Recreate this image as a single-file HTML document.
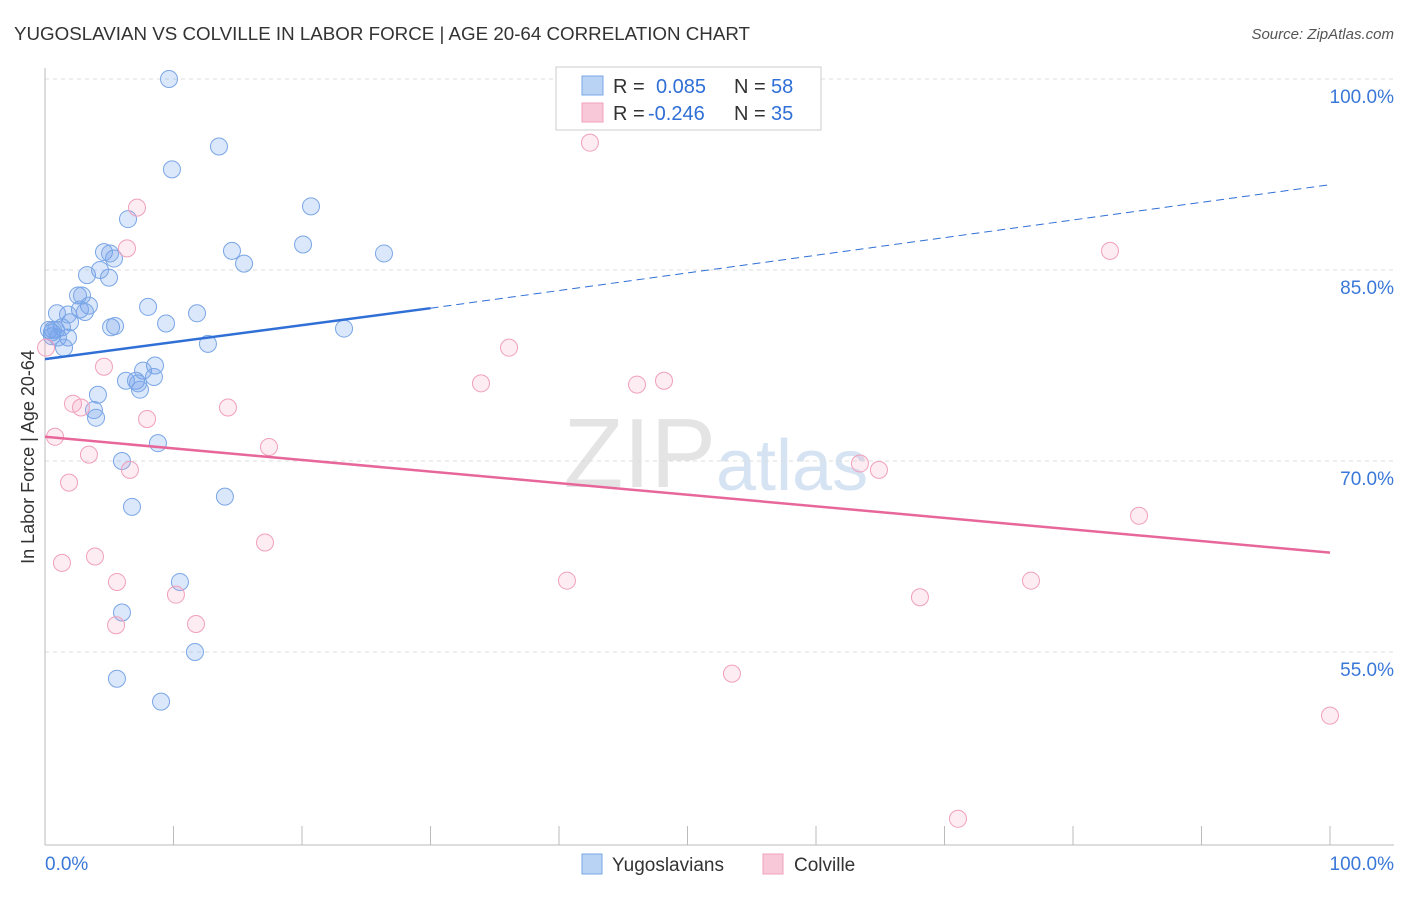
<!DOCTYPE html>
<html><head><meta charset="utf-8"><style>
body{margin:0;background:#fff;font-family:"Liberation Sans",sans-serif;}
svg text{font-family:"Liberation Sans",sans-serif;}
</style></head><body>
<svg id="chart" width="1406" height="892">
<text x="14" y="40" font-size="18" fill="#333" textLength="736" lengthAdjust="spacingAndGlyphs">YUGOSLAVIAN VS COLVILLE IN LABOR FORCE | AGE 20-64 CORRELATION CHART</text>
<text x="1394" y="39" font-size="15" fill="#555" text-anchor="end" font-style="italic">Source: ZipAtlas.com</text>
<text x="716" y="487" font-size="98" fill="#e4e4e4" text-anchor="end" font-family="Liberation Serif">ZIP</text>
<text x="716" y="490" font-size="72" fill="#d6e3f3">atlas</text>
<g id="grid"></g>
<g id="axes"></g>
<g id="pts"></g>
<g id="trend"></g>
<text transform="translate(34,457) rotate(-90)" font-size="18" fill="#333" text-anchor="middle">In Labor Force | Age 20-64</text>
<g>
<rect x="556" y="67" width="265" height="63" fill="#fff" stroke="#ccc"/>
<rect x="582" y="76" width="21" height="19" fill="#b9d3f5" stroke="#7aa6e6"/>
<rect x="582" y="103" width="21" height="19" fill="#f8c8d8" stroke="#f0a0bc"/>
<text x="613" y="93" font-size="20" fill="#333">R = <tspan x="656" fill="#2f6fd6">0.085</tspan><tspan x="734">N = </tspan><tspan x="771" fill="#2f6fd6">58</tspan></text>
<text x="613" y="120" font-size="20" fill="#333">R = <tspan x="648" fill="#2f6fd6">-0.246</tspan><tspan x="734">N = </tspan><tspan x="771" fill="#2f6fd6">35</tspan></text>
</g>
<g>
<rect x="582" y="854" width="20" height="20" fill="#b9d3f5" stroke="#7aa6e6"/>
<text x="612" y="871" font-size="19" fill="#333">Yugoslavians</text>
<rect x="763" y="854" width="20" height="20" fill="#f8c8d8" stroke="#f0a0bc"/>
<text x="794" y="871" font-size="19" fill="#333">Colville</text>
</g>
</svg>
<script>
const blueX=[9.65,9.88,13.54,6.46,20.7,14.55,20.08,15.49,26.38,4.59,5.37,4.98,3.27,4.28,2.57,2.88,3.42,2.72,3.11,1.79,0.93,1.95,1.32,0.62,0.31,0.54,1.01,1.79,1.48,5.14,5.45,8.02,9.42,11.83,12.68,23.27,8.56,7.63,8.48,6.3,7.08,7.39,7.24,4.12,3.81,3.97,8.79,5.99,6.77,14.0,10.5,5.99,11.67,5.6,9.03,0.54,0.86,5.06];
const blueY=[100,92.9,94.7,89.0,90.0,86.5,87.0,85.5,86.3,86.4,85.9,84.4,84.6,85.0,83.0,83.0,82.2,81.9,81.7,81.5,81.6,80.9,80.5,80.3,80.3,79.8,79.7,79.7,78.9,80.5,80.6,82.1,80.8,81.6,79.2,80.4,77.5,77.1,76.6,76.3,76.3,75.6,76.1,75.2,74.0,73.4,71.4,70.0,66.4,67.2,60.5,58.1,55.0,52.9,51.1,80.1,80.3,86.3];
const pinkX=[42.41,7.16,6.38,82.88,36.11,0.08,33.93,46.07,48.17,4.59,2.18,2.8,14.24,7.94,0.78,17.43,3.42,6.61,1.87,63.42,64.9,85.14,17.12,3.89,1.32,5.6,40.62,76.73,10.19,68.09,11.75,5.53,53.46,100,71.05];
const pinkY=[95.0,89.9,86.7,86.5,78.9,78.9,76.1,76.0,76.3,77.4,74.5,74.2,74.2,73.3,71.9,71.1,70.5,69.3,68.3,69.8,69.3,65.7,63.6,62.5,62.0,60.5,60.6,60.6,59.5,59.3,57.2,57.1,53.3,50.0,41.9];
const blueTrend=[78.0,82.0,91.7];
const blueTrendX=[0,30,100];
const pinkTrend=[71.9,62.8];
const pinkTrendX=[0,100];
const yTicks=[100,85,70,55];
const yTickLabels=["100.0%","85.0%","70.0%","55.0%"];
const xTicks=[0,10,20,30,40,50,60,70,80,90,100];
const NS="http://www.w3.org/2000/svg";
const sx=v=>45+v*12.85, sy=v=>79+(100-v)*12.733;
function mk(tag,attrs,parent){const e=document.createElementNS(NS,tag);for(const k in attrs)e.setAttribute(k,attrs[k]);document.getElementById(parent).appendChild(e);return e;}
yTicks.forEach((t,i)=>{
 const l=mk('line',{x1:45,x2:1394,y1:sy(t),y2:sy(t),stroke:'#ddd','stroke-dasharray':'4,4'},'grid');
 
 
 const tx=mk('text',{x:1394,y:sy(t)+24,'font-size':19,fill:'#3a78d8','text-anchor':'end'},'grid');
 tx.textContent=yTickLabels[i];
 
 
});
const ax=mk('line',{x1:45,x2:1394,y1:845,y2:845,stroke:'#bbb'},'axes');


const ay=mk('line',{x1:45,x2:45,y1:68,y2:845,stroke:'#bbb'},'axes');


xTicks.forEach(t=>{const l=mk('line',{x1:sx(t),x2:sx(t),y1:826,y2:845,stroke:'#bbb'},'axes');
 
 });
[[0,'0.0%','start',45],[100,'100.0%','end',1394]].forEach(d=>{const t=mk('text',{x:d[3],y:870,'font-size':19,fill:'#3a78d8','text-anchor':d[2]},'axes');t.textContent=d[1];
 
 });
blueX.forEach((x,i)=>{const c=mk('circle',{cx:sx(x),cy:sy(blueY[i]),r:8.5,fill:'rgba(110,160,235,0.25)',stroke:'#7aa6e6','stroke-width':1},'pts');
 
 });
pinkX.forEach((x,i)=>{const c=mk('circle',{cx:sx(x),cy:sy(pinkY[i]),r:8.5,fill:'rgba(245,160,190,0.2)',stroke:'#f0a0bc','stroke-width':1},'pts');
 
 });
const b1=mk('line',{x1:sx(blueTrendX[0]),y1:sy(blueTrend[0]),x2:sx(blueTrendX[1]),y2:sy(blueTrend[1]),stroke:'#2f6fd6','stroke-width':2.5},'trend');


const b2=mk('line',{x1:sx(blueTrendX[1]),y1:sy(blueTrend[1]),x2:sx(blueTrendX[2]),y2:sy(blueTrend[2]),stroke:'#2f6fd6','stroke-width':1,'stroke-dasharray':'8,5'},'trend');


const p1=mk('line',{x1:sx(pinkTrendX[0]),y1:sy(pinkTrend[0]),x2:sx(pinkTrendX[1]),y2:sy(pinkTrend[1]),stroke:'#e8679a','stroke-width':2.5},'trend');


</script>
</body></html>
